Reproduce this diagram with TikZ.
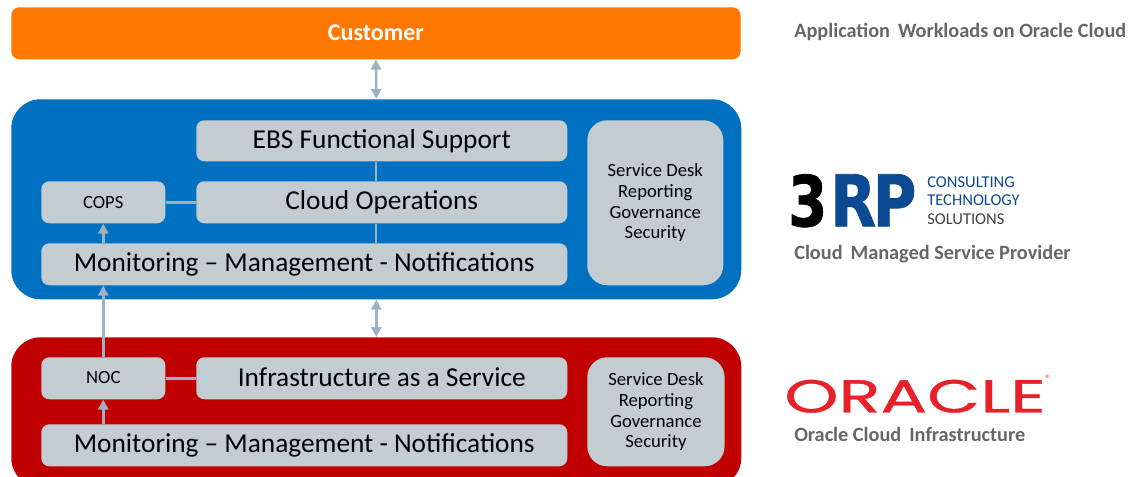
\documentclass[tikz,border=0pt]{standalone}
\usepackage{fontspec}
\setmainfont{Carlito}
\newfontfamily\logofont[FakeBold=0.6]{Poppins}
\newfontfamily\heavyfont[BoldFeatures={FakeBold=1.2}]{DejaVu Sans}
\usetikzlibrary{arrows.meta,positioning}
\definecolor{cust}{HTML}{FF7800}
\definecolor{csp}{HTML}{0070C0}
\definecolor{oci}{HTML}{C00000}
\definecolor{tile}{HTML}{C3CCD1}
\definecolor{conn}{HTML}{9DB2C2}
\definecolor{cap}{HTML}{666666}
\definecolor{blue3rp}{HTML}{0B4A93}
\definecolor{orared}{HTML}{E8202A}
\tikzset{
	band/.style={anchor=north west, inner sep=0pt, rounded corners=#1},
	tile/.style={anchor=north west, fill=tile, inner sep=0pt, rounded corners=6pt, text=black},
	caption/.style={anchor=west, inner sep=0pt, text=cap, font=\fontsize{15.2}{17}\selectfont\bfseries},
	logotext/.style={anchor=west, inner sep=0pt, font=\fontsize{12.4}{14}\selectfont},
	link/.style={draw=conn, line width=1.9pt},
	flow/.style={link, -{Triangle[length=7.5pt,width=7.5pt]}},
	flowboth/.style={link, {Triangle[length=7.5pt,width=7.5pt]}-{Triangle[length=7.5pt,width=7.5pt]}},
}
\newcommand{\bigsize}{\fontsize{20.5}{23}\selectfont}
\newcommand{\smallsize}{\fontsize{14}{15.4}\selectfont}
\begin{document}
\begin{tikzpicture}[x=0.75pt,y=-0.75pt]
	\useasboundingbox (0,0) rectangle (1141,476);
	\clip (0,0) rectangle (1141,476);

	\node[band=6pt, fill=cust, minimum width=547pt, minimum height=39pt, text=white, text depth=1.5pt, font=\fontsize{18}{20}\selectfont\bfseries] (customer) at (11,7) {Customer};
	\node[band=22pt, fill=csp, minimum width=547.5pt, minimum height=150pt] (cloudband) at (11,99) {};
	\node[band=22pt, fill=oci, minimum width=547.5pt, minimum height=112.5pt] (infraband) at (11,337) {};

	% managed service layer
	\node[tile, minimum width=278.25pt, minimum height=30.75pt, font=\bigsize] (ebs) at (196,120) {EBS Functional Support};
	\node[tile, minimum width=278.25pt, minimum height=31.5pt, font=\bigsize] (cloudops) at (196,181) {Cloud Operations};
	\node[tile, minimum width=93pt, minimum height=31.5pt, font=\smallsize] (cops) at (41,181) {COPS};
	\node[tile, minimum width=394.5pt, minimum height=31.5pt, font=\bigsize] (mon1) at (41,243) {Monitoring -- Management - Notifications};
	\node[tile, rounded corners=15pt, minimum width=102pt, minimum height=123.75pt, align=center, font=\smallsize] (desk1) at (587,120) {Service Desk\\Reporting\\Governance\\Security};

	% infrastructure layer
	\node[tile, minimum width=93pt, minimum height=31.5pt, text depth=1.5pt, font=\smallsize] (noc) at (41,357) {NOC};
	\node[tile, minimum width=278.25pt, minimum height=31.5pt, text depth=2.5pt, font=\bigsize] (iaas) at (196,357) {Infrastructure as a Service};
	\node[tile, minimum width=394.5pt, minimum height=31.5pt, font=\bigsize] (mon2) at (41,424) {Monitoring -- Management - Notifications};
	\node[tile, rounded corners=15pt, minimum width=103pt, minimum height=81.75pt, align=center, font=\smallsize] (desk2) at (587,357) {Service Desk\\Reporting\\Governance\\Security};

	\draw[link] ([xshift=-4.5pt]ebs.south) -- ([xshift=-4.5pt]cloudops.north);
	\draw[link] ([xshift=-4.5pt]cloudops.south) -- ([xshift=-4.5pt]cloudops.south |- mon1.north);
	\draw[link] (cops) -- (cloudops);
	\draw[link] (noc) -- (iaas);
	\draw[flow] (cops.south |- mon1.north) -- (cops.south);
	\draw[flow] (noc.south |- mon2.north) -- (noc.south);
	\draw[flow] (noc.north) -- (noc.north |- mon1.south);
	\draw[flowboth] (customer.south) -- (cloudband.north);
	\draw[flowboth] (cloudband.south) -- (infraband.north);

	% right column
	\node[caption] (workloads) at (794,32) {Application\, Workloads on Oracle Cloud};
	\node[caption] (provider) at (794,254) {Cloud\, Managed Service Provider};
	\node[caption] (infra) at (794,434) {Oracle Cloud\, Infrastructure};

	\node[anchor=north west, inner sep=0pt] (three) at (788,174) {\resizebox{29.25pt}{39pt}{\heavyfont\bfseries 3}};
	\node[anchor=north west, inner sep=0pt, text=blue3rp] (rp) at (830,174) {\resizebox{64.5pt}{39pt}{\heavyfont\bfseries R\kern-0.06em P}};
	\node[logotext, text=blue3rp] (consulting) at (927,182) {CONSULTING};
	\node[logotext, text=blue3rp] (technology) at (927,200) {TECHNOLOGY};
	\node[logotext, text=black!75] (solutions) at (927,219) {SOLUTIONS};

	\node[anchor=north west, inner sep=0pt, text=orared] (oracle) at (784,379.5) {\resizebox{196pt}{24.5pt}{\logofont ORACLE}};
	\node[anchor=north west, inner sep=0pt, text=orared, font=\fontsize{8}{9}\selectfont] (reg) at (1045,375) {®};
\end{tikzpicture}
\end{document}
